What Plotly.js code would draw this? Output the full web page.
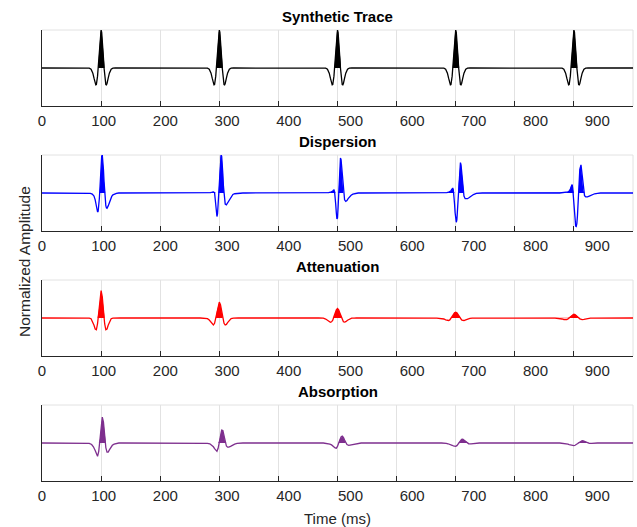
<!DOCTYPE html>
<html>
<head>
<meta charset="utf-8">
<script src="https://cdn.plot.ly/plotly-3.0.1.min.js"></script>
<style>html,body{margin:0;padding:0;background:#fff;}#chart{width:637px;height:527px;}</style>
</head>
<body>
<div id="chart"></div>
<script>
// ---- data ----
const eventTimes = [100, 300, 500, 700, 900];        // ms, reflector times
const tickLabelValues = [0, 100, 200, 300, 400, 500, 600, 700, 800, 900];
const tickLabelText = ['0','100','200','300','400','500','600','700','800','900'];
const panelTitles = ['Synthetic Trace', 'Dispersion', 'Attenuation', 'Absorption'];

// Synthetic trace: same zero-phase wavelet at each reflector
const synthOffsets = [-24,-20,-17,-14,-12,-10,-9,-8,-7,-6,-5,-4,-3,-2,-1,0,1,2,3,4,5,6,7,8,9,10,12,14,17,20,24];
const synthWavelet = [0,-0.005,-0.03,-0.136,-0.267,-0.406,-0.443,-0.434,-0.36,-0.214,0,0.261,0.535,0.775,0.941,1,0.941,0.775,0.535,0.261,0,-0.214,-0.36,-0.434,-0.443,-0.406,-0.267,-0.136,-0.03,-0.005,0];

// Dispersion
const dispOffsets = [-24,-18,-15,-12,-10,-8,-7,-6,-5,-4,-3,-2,-1,0,1,2,3,4,5,6,7,8,9,10,12,14,16,18,20,23,26,30,35,40,45];
const disp100 = [0,-0.01,-0.03,-0.08,-0.18,-0.35,-0.45,-0.5,-0.48,-0.36,-0.15,0.12,0.45,0.78,0.97,1.0,0.88,0.62,0.3,0.02,-0.2,-0.33,-0.39,-0.4,-0.34,-0.24,-0.15,-0.09,-0.05,-0.02,-0.01,0,0,0,0];
const disp300 = [0,0.005,0.01,0.02,0.03,0.01,-0.12,-0.32,-0.52,-0.62,-0.55,-0.3,0.05,0.42,0.75,0.94,1.0,0.97,0.8,0.5,0.18,-0.08,-0.22,-0.29,-0.31,-0.26,-0.19,-0.13,-0.08,-0.04,-0.02,-0.01,0,0,0];
const disp500 = [0,0.005,0.01,0.02,0.03,0.05,0.07,0.08,0.04,-0.08,-0.3,-0.52,-0.68,-0.66,-0.38,0.05,0.45,0.78,0.92,0.88,0.7,0.42,0.16,-0.04,-0.18,-0.22,-0.2,-0.15,-0.11,-0.06,-0.03,-0.01,0,0,0];
const disp700 = [0,0.005,0.01,0.02,0.03,0.06,0.09,0.12,0.13,0.08,-0.05,-0.28,-0.52,-0.7,-0.77,-0.7,-0.45,-0.1,0.25,0.55,0.75,0.8,0.74,0.55,0.15,-0.08,-0.15,-0.16,-0.15,-0.12,-0.08,-0.04,-0.01,0,0];
const disp900 = [0,0.005,0.01,0.02,0.03,0.05,0.07,0.1,0.15,0.21,0.22,0.12,-0.1,-0.35,-0.6,-0.78,-0.87,-0.88,-0.8,-0.6,-0.3,0.05,0.38,0.62,0.74,0.42,0.06,-0.07,-0.1,-0.1,-0.08,-0.05,-0.02,-0.01,0];

// Attenuation
const attOffsets = [-32,-28,-24,-20,-17,-14,-12,-10,-8,-6,-4,-2,0,2,4,6,8,10,12,14,17,20,24,28,32];
const att100 = [0,0,0,-0.004,-0.02,-0.1,-0.19,-0.29,-0.31,-0.15,0.19,0.56,0.72,0.56,0.19,-0.15,-0.31,-0.29,-0.19,-0.1,-0.02,-0.004,0,0,0];
const att300 = [0,0,-0.002,-0.017,-0.055,-0.12,-0.17,-0.185,-0.14,0,0.19,0.35,0.42,0.35,0.19,0,-0.14,-0.185,-0.17,-0.12,-0.055,-0.017,-0.002,0,0];
const att500 = [0,-0.002,-0.005,-0.028,-0.058,-0.098,-0.11,-0.1,-0.058,0.04,0.134,0.215,0.25,0.215,0.134,0.04,-0.058,-0.1,-0.11,-0.098,-0.058,-0.028,-0.005,-0.002,0];
const att700 = [-0.001,-0.003,-0.008,-0.026,-0.047,-0.066,-0.065,-0.05,-0.012,0.039,0.09,0.135,0.15,0.135,0.09,0.039,-0.012,-0.05,-0.065,-0.066,-0.047,-0.026,-0.008,-0.003,-0.001];
const att900 = [-0.002,-0.005,-0.011,-0.026,-0.039,-0.044,-0.039,-0.023,0.005,0.037,0.07,0.092,0.1,0.092,0.07,0.037,0.005,-0.023,-0.039,-0.044,-0.039,-0.026,-0.011,-0.005,-0.002];

// Absorption
const absOffsets = [-24,-20,-16,-13,-10,-8,-6,-4,-2,0,2,4,6,8,10,12,14,16,19,22,26,30,35,40];
const abs100 = [0,-0.01,-0.04,-0.1,-0.2,-0.3,-0.35,-0.22,0.1,0.5,0.68,0.55,0.2,-0.12,-0.24,-0.24,-0.18,-0.12,-0.06,-0.03,-0.01,0,0,0];
const abs300 = [0,-0.01,-0.02,-0.05,-0.1,-0.15,-0.2,-0.22,-0.14,0.05,0.24,0.34,0.33,0.2,0.03,-0.08,-0.11,-0.11,-0.09,-0.06,-0.03,-0.01,0,0];
const abs500 = [0,-0.005,-0.015,-0.03,-0.05,-0.08,-0.11,-0.13,-0.14,-0.09,0.0,0.1,0.16,0.18,0.15,0.08,0.0,-0.04,-0.06,-0.05,-0.03,-0.015,-0.005,0];
const abs700 = [0,0,-0.01,-0.02,-0.03,-0.045,-0.06,-0.075,-0.085,-0.09,-0.07,-0.03,0.02,0.07,0.095,0.1,0.08,0.05,0.01,-0.02,-0.025,-0.015,-0.005,0];
const abs900 = [0,-0.005,-0.01,-0.02,-0.03,-0.04,-0.05,-0.06,-0.065,-0.07,-0.06,-0.04,-0.01,0.02,0.04,0.055,0.06,0.055,0.035,0.01,-0.01,-0.01,-0.005,0];

const traceEnd = 1000;
const seriesColors = ['#000000', '#0000ff', '#ff0000', '#7e2f8e'];

// ---- build the series ----
function buildSeries(offsets, ampsList) {
  const xs = [0], ys = [0];
  eventTimes.forEach((t, i) => {
    offsets.forEach((o, j) => { xs.push(t + o); ys.push(ampsList[i][j]); });
  });
  xs.push(traceEnd); ys.push(0);
  return {x: xs, y: ys};
}
const series = [
  buildSeries(synthOffsets, [synthWavelet, synthWavelet, synthWavelet, synthWavelet, synthWavelet]),
  buildSeries(dispOffsets, [disp100, disp300, disp500, disp700, disp900]),
  buildSeries(attOffsets, [att100, att300, att500, att700, att900]),
  buildSeries(absOffsets, [abs100, abs300, abs500, abs700, abs900])
];

// ---- layout geometry ----
const W = 637, H = 527;
const axLeft = 42, axRight = 633;
const panelTop0 = 30, panelStep = 125, panelH = 76;
const xDom = [axLeft / W, axRight / W];
const labelRange = 958;   // tick labels spread slightly wider than the grid ticks in the reference

const data = [];
const layout = {
  width: W, height: H,
  margin: {l: 0, r: 0, t: 0, b: 0},
  paper_bgcolor: '#ffffff', plot_bgcolor: '#ffffff',
  showlegend: false,
  font: {family: 'Liberation Sans, Arial, Helvetica, sans-serif', color: '#262626', size: 15},
  annotations: [],
  shapes: []
};

series.forEach((s, k) => {
  const xa = k === 0 ? 'x' : 'x' + (k + 1);
  const ya = k === 0 ? 'y' : 'y' + (k + 1);
  const xl = 'x' + (k + 5);
  const top = panelTop0 + panelStep * k;
  const bottom = top + panelH;
  const yDom = [1 - bottom / H, 1 - top / H];
  const pos = s.y.map(v => Math.max(0, v));
  data.push({x: s.x, y: pos, xaxis: xa, yaxis: ya, type: 'scatter', mode: 'lines',
             line: {width: 0, color: seriesColors[k]}, fill: 'tozeroy', fillcolor: seriesColors[k], hoverinfo: 'skip'});
  data.push({x: s.x, y: s.y, xaxis: xa, yaxis: ya, type: 'scatter', mode: 'lines',
             line: {width: 1.3, color: seriesColors[k]}});
  data.push({x: [0], y: [0], xaxis: xl, yaxis: ya, type: 'scatter', mode: 'markers',
             marker: {opacity: 0}, hoverinfo: 'skip'});

  const xKey = k === 0 ? 'xaxis' : 'xaxis' + (k + 1);
  const yKey = k === 0 ? 'yaxis' : 'yaxis' + (k + 1);
  layout[xKey] = {
    domain: xDom, anchor: ya, range: [0, traceEnd], tickmode: 'linear', tick0: 0, dtick: 100,
    ticks: 'inside', ticklen: 5, tickwidth: 1, tickcolor: '#262626', showticklabels: false,
    showgrid: true, gridcolor: '#e2e2e2', gridwidth: 1,
    showline: true, linecolor: '#262626', linewidth: 1, zeroline: false, fixedrange: true
  };
  layout['xaxis' + (k + 5)] = {
    overlaying: xa, anchor: ya, range: [0, labelRange], tickmode: 'array',
    tickvals: tickLabelValues, ticktext: tickLabelText, ticks: '', showgrid: false, showline: false,
    zeroline: false, tickfont: {size: 15, color: '#262626'}, ticklabelstandoff: 4, fixedrange: true
  };
  layout[yKey] = {
    domain: yDom, anchor: xa, range: [-1, 1], tickmode: 'array', tickvals: [-1, 1],
    ticks: 'inside', ticklen: 5, tickwidth: 1, tickcolor: '#262626', showticklabels: false,
    showgrid: true, gridcolor: '#e2e2e2', gridwidth: 1,
    showline: true, linecolor: '#262626', linewidth: 1, zeroline: false, fixedrange: true
  };
  layout.shapes.push({type: 'line', xref: 'paper', yref: 'paper', x0: xDom[0], x1: xDom[1], y0: yDom[1], y1: yDom[1],
                      line: {color: '#e2e2e2', width: 1}, layer: 'below'});
  layout.shapes.push({type: 'line', xref: 'paper', yref: 'paper', x0: xDom[1], x1: xDom[1], y0: yDom[0], y1: yDom[1],
                      line: {color: '#e2e2e2', width: 1}, layer: 'below'});
  layout.annotations.push({text: '<b>' + panelTitles[k] + '</b>', xref: 'paper', yref: 'paper',
    x: (xDom[0] + xDom[1]) / 2, y: yDom[1], xanchor: 'center', yanchor: 'bottom', yshift: 3,
    showarrow: false, font: {size: 15, color: '#000000'}});
});

layout.annotations.push({text: 'Time (ms)', xref: 'paper', yref: 'paper', x: (xDom[0] + xDom[1]) / 2, y: 1 - 518 / H,
  xanchor: 'center', yanchor: 'middle', showarrow: false, font: {size: 15, color: '#262626'}});
layout.annotations.push({text: 'Normalized Amplitude', xref: 'paper', yref: 'paper', x: 25 / W, y: 1 - 262 / H,
  xanchor: 'center', yanchor: 'middle', textangle: -90, showarrow: false, font: {size: 15.5, color: '#262626'}});

Plotly.newPlot('chart', data, layout, {staticPlot: true, displayModeBar: false});
</script>
</body>
</html>
